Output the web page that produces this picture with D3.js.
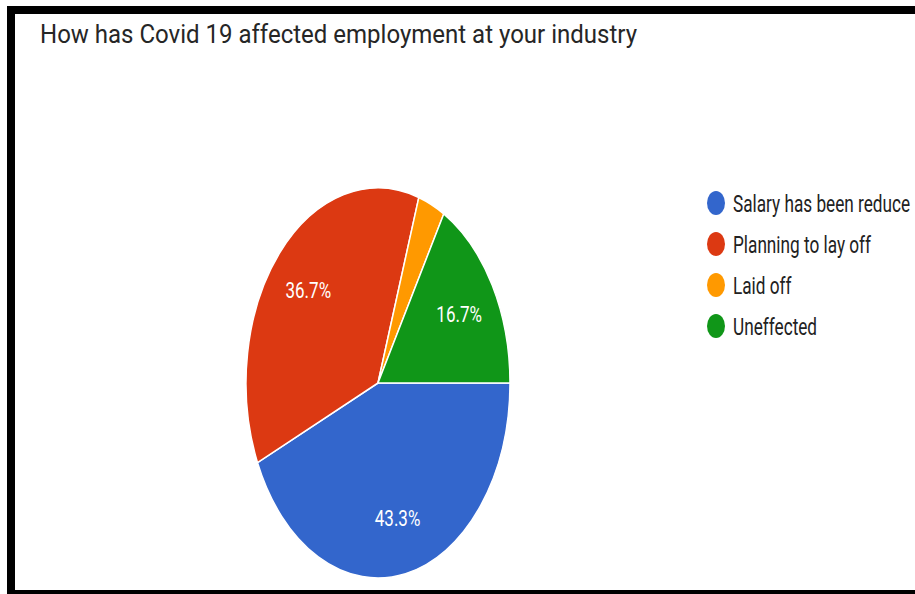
<!DOCTYPE html>
<html>
<head>
<meta charset="utf-8">
<script src="https://cdn.jsdelivr.net/npm/d3@7"></script>
<style>
  html, body { margin: 0; padding: 0; background: #fff; }
  svg { display: block; }
  text { font-family: Roboto, "Noto Sans", Arial, sans-serif; }
</style>
</head>
<body>
<svg id="chart" width="915" height="594"></svg>
<script>
// Survey responses
const title = "How has Covid 19 affected employment at your industry";
const categories = ["Salary has been reduce", "Planning to lay off", "Laid off", "Uneffected"];
const shares = [43.3, 36.7, 3.3, 16.7];
const colors = ["#3366cc", "#dc3912", "#ff9900", "#109618"];
const labelText = ["43.3%", "36.7%", "", "16.7%"];

const svg = d3.select("#chart");
const W = 915, H = 594;

// Frame
svg.append("rect").attr("x", 0).attr("y", 0).attr("width", W).attr("height", H).attr("fill", "#fff");
svg.append("rect").attr("x", 7).attr("y", 6).attr("width", W - 7).attr("height", 8).attr("fill", "#000");
svg.append("rect").attr("x", 7).attr("y", 6).attr("width", 8).attr("height", H - 6).attr("fill", "#000");
svg.append("rect").attr("x", 7).attr("y", 590).attr("width", W - 7).attr("height", 4).attr("fill", "#000");

// Title (tall, narrow lettering)
svg.append("text")
  .attr("transform", "translate(40,43) scale(1,1.22)")
  .attr("font-size", 21)
  .attr("fill", "#262626")
  .attr("textLength", 597)
  .attr("lengthAdjust", "spacingAndGlyphs")
  .text(title);

// Pie (drawn as a circle, stretched vertically)
const cx = 378, cy = 383, R = 132, stretch = 195 / 132;
const pie = d3.pie().sort(null).value(d => d)
  .startAngle(Math.PI / 2).endAngle(Math.PI / 2 + 2 * Math.PI);
const arcs = pie(shares);
const arc = d3.arc().innerRadius(0).outerRadius(R);
const labelArc = d3.arc().innerRadius(R * 0.71).outerRadius(R * 0.71);

const g = svg.append("g").attr("transform", `translate(${cx},${cy}) scale(1,${stretch})`);
g.selectAll("path").data(arcs).join("path")
  .attr("d", arc)
  .attr("fill", (d, i) => colors[i])
  .attr("stroke", "#fff")
  .attr("stroke-width", 1.5)
  .attr("vector-effect", "non-scaling-stroke");

// Slice labels
arcs.forEach((d, i) => {
  if (!labelText[i]) return;
  const [lx, ly] = labelArc.centroid(d);
  svg.append("text")
    .attr("transform", `translate(${cx + lx},${cy + ly * stretch}) scale(1,1.3)`)
    .attr("text-anchor", "middle")
    .attr("dy", "0.36em")
    .attr("font-size", 17)
    .attr("fill", "#fff")
    .text(labelText[i]);
});

// Legend
const lx0 = 716, ly0 = 203, lstep = 41;
const leg = svg.append("g");
categories.forEach((c, i) => {
  const y = ly0 + i * lstep;
  leg.append("ellipse")
    .attr("cx", lx0).attr("cy", y)
    .attr("rx", 9).attr("ry", 12)
    .attr("fill", colors[i]);
  leg.append("text")
    .attr("transform", `translate(${lx0 + 17},${y}) scale(1,1.38)`)
    .attr("dy", "0.36em")
    .attr("font-size", 17.2)
    .attr("fill", "#222")
    .text(c);
});
</script>
</body>
</html>
